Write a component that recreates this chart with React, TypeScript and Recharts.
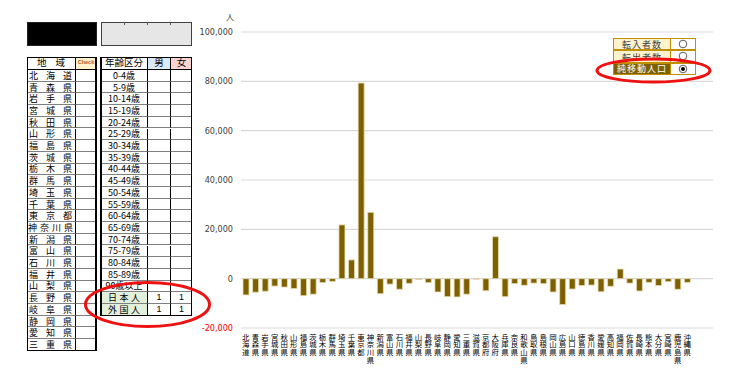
import React from "react";
import { BarChart, Bar, XAxis, YAxis, CartesianGrid } from "recharts";

const PREFECTURES = [
  "北海道", "青森県", "岩手県", "宮城県", "秋田県", "山形県", "福島県", "茨城県", "栃木県", "群馬県",
  "埼玉県", "千葉県", "東京都", "神奈川県", "新潟県", "富山県", "石川県", "福井県", "山梨県", "長野県",
  "岐阜県", "静岡県", "愛知県", "三重県", "滋賀県", "京都府", "大阪府", "兵庫県", "奈良県", "和歌山県",
  "鳥取県", "島根県", "岡山県", "広島県", "山口県", "徳島県", "香川県", "愛媛県", "高知県", "福岡県",
  "佐賀県", "長崎県", "熊本県", "大分県", "宮崎県", "鹿児島県", "沖縄県",
];

// 純移動人口 (人)
const NET_MIGRATION = [
  -6600, -5500, -5100, -3000, -3400, -4000, -6900, -6300, -1600, -1100,
  21800, 7600, 79300, 26900, -6100, -2200, -4300, -1900, -300, -1600,
  -5400, -7300, -7400, -6300, -200, -4900, 17000, -7300, -2000, -2700,
  -1800, -2000, -5400, -10500, -4200, -2800, -2600, -5300, -3100, 3900,
  -1800, -5000, -1500, -2800, -1200, -4300, -1500,
];

const Y_TICKS = [-20000, 0, 20000, 40000, 60000, 80000, 100000];

const REGION_ROWS = PREFECTURES.slice(0, 24);

const AGE_GROUPS = [
  "0-4歳", "5-9歳", "10-14歳", "15-19歳", "20-24歳", "25-29歳", "30-34歳", "35-39歳",
  "40-44歳", "45-49歳", "50-54歳", "55-59歳", "60-64歳", "65-69歳", "70-74歳", "75-79歳",
  "80-84歳", "85-89歳", "90歳以上",
];

const NATIONALITY = ["日本人", "外国人"];
const NATIONALITY_MALE = [1, 1];
const NATIONALITY_FEMALE = [1, 1];

const LEGEND_ITEMS = ["転入者数", "転出者数", "純移動人口"];

const data = PREFECTURES.map((name, i) => ({ name, value: NET_MIGRATION[i] }));

const JP = "'Noto Sans CJK JP', sans-serif";
const NARROW = "'Liberation Sans Narrow', 'DejaVu Sans Condensed', Roboto, sans-serif";
const RH = 11.7;
const ROW0 = 70;

function Box({ x, y, w, h, bg, style, children }: any) {
  return (
    <div
      style={{
        position: "absolute",
        left: x,
        top: y,
        width: w,
        height: h,
        background: bg,
        boxSizing: "border-box",
        display: "flex",
        alignItems: "center",
        justifyContent: "center",
        fontSize: 9,
        lineHeight: 1,
        fontFamily: JP,
        color: "#000",
        whiteSpace: "nowrap",
        ...style,
      }}
    >
      {children}
    </div>
  );
}

function Spread({ text, pad = [2, 3] }: { text: string; pad?: number[] }) {
  return (
    <div
      style={{
        display: "flex",
        justifyContent: "space-between",
        width: "100%",
        padding: `0 ${pad[1]}px 0 ${pad[0]}px`,
        boxSizing: "border-box",
      }}
    >
      {text.split("").map((c, i) => (
        <span key={i}>{c}</span>
      ))}
    </div>
  );
}

function LeftTables() {
  const rowLine = "1px solid #808080";
  return (
    <>
      {/* top boxes */}
      <Box x={27} y={22} w={70} h={24} bg="#000" style={{ border: "1px solid #222" }} />
      <Box x={101} y={22} w={91} h={24} bg="#e7e6e6" style={{ border: "1px solid #404040" }} />
      {[124, 147, 170].map((x) => (
        <div key={x} style={{ position: "absolute", left: x, top: 22, width: 1, height: 3, background: "#555" }} />
      ))}

      {/* region table */}
      <Box x={27} y={57} w={48} h={13} style={{ borderBottom: "1px solid #000", fontSize: 9.5 }}>
        <Spread text="地域" pad={[10, 10]} />
      </Box>
      <Box x={75} y={57} w={21} h={13} bg="#fff2cc" style={{ borderLeft: "1px solid #000", borderBottom: "1px solid #000", fontSize: 5.5, color: "#c65911", fontWeight: 700, fontFamily: "'Liberation Sans', sans-serif" }}>
        Check
      </Box>
      {REGION_ROWS.map((p, i) => (
        <React.Fragment key={p}>
          <Box x={27} y={ROW0 + i * RH} w={48} h={RH} style={{ borderBottom: rowLine }}>
            <Spread text={p} pad={p.length === 4 ? [1, 2] : [2, 3]} />
          </Box>
          <Box x={75} y={ROW0 + i * RH} w={21} h={RH} style={{ borderLeft: "1px solid #000", borderBottom: rowLine }} />
        </React.Fragment>
      ))}
      <div style={{ position: "absolute", left: 27, top: 57, width: 70, height: 294, border: "1px solid #000", borderRight: "2px solid #000", boxSizing: "border-box" }} />

      {/* age table */}
      <Box x={101} y={57} w={46} h={13} style={{ borderBottom: "1px solid #000", fontSize: 9.5 }}>
        年齢区分
      </Box>
      <Box x={147} y={57} w={23} h={13} bg="#dce9f6" style={{ borderLeft: "1px solid #000", borderBottom: "1px solid #000", fontSize: 9.5 }}>
        男
      </Box>
      <Box x={170} y={57} w={22} h={13} bg="#fbd3d2" style={{ borderLeft: "1px solid #000", borderBottom: "1px solid #000", fontSize: 9.5 }}>
        女
      </Box>
      {AGE_GROUPS.map((a, i) => (
        <React.Fragment key={a}>
          <Box x={101} y={ROW0 + i * RH} w={46} h={RH} style={{ borderBottom: rowLine }}>
            {a}
          </Box>
          <Box x={147} y={ROW0 + i * RH} w={23} h={RH} style={{ borderLeft: "1px solid #000", borderBottom: rowLine }} />
          <Box x={170} y={ROW0 + i * RH} w={22} h={RH} style={{ borderLeft: "1px solid #000", borderBottom: rowLine }} />
        </React.Fragment>
      ))}
      {NATIONALITY.map((n, j) => {
        const y = ROW0 + (AGE_GROUPS.length + j) * RH;
        return (
          <React.Fragment key={n}>
            <Box x={101} y={y} w={46} h={RH} bg="#e2efda" style={{ borderBottom: rowLine }}>
              <Spread text={n} pad={[7, 7]} />
            </Box>
            <Box x={147} y={y} w={23} h={RH} style={{ borderLeft: "1px solid #000", borderBottom: rowLine, fontFamily: "'Liberation Sans', sans-serif" }}>
              {NATIONALITY_MALE[j]}
            </Box>
            <Box x={170} y={y} w={22} h={RH} style={{ borderLeft: "1px solid #000", borderBottom: rowLine, fontFamily: "'Liberation Sans', sans-serif" }}>
              {NATIONALITY_FEMALE[j]}
            </Box>
          </React.Fragment>
        );
      })}
      <div style={{ position: "absolute", left: 100, top: 57, width: 92, height: ROW0 + 21 * RH - 57, border: "1px solid #000", borderLeft: "2px solid #000", boxSizing: "border-box" }} />
    </>
  );
}

function LegendControl() {
  const rows = [
    { y: 38, h: 12, bg: "#fff2cc", color: "#404040", checked: false },
    { y: 50, h: 12.5, bg: "#fff2cc", color: "#404040", checked: false },
    { y: 62.5, h: 12.5, bg: "#7f6000", color: "#fff", checked: true },
  ];
  return (
    <>
      {LEGEND_ITEMS.map((label, i) => {
        const r = rows[i];
        return (
          <React.Fragment key={label}>
            <Box x={613} y={r.y} w={58} h={r.h} bg={r.bg} style={{ border: "1px solid #bf9000", color: r.color, letterSpacing: 1, alignItems: i === 1 ? "flex-start" : "center", overflow: "hidden" }}>
              {i === 1 ? (
                <div style={{ height: 6, overflow: "hidden", marginTop: 2 }}>{label}</div>
              ) : (
                label
              )}
            </Box>
            <Box x={671} y={r.y} w={25} h={r.h} bg="#fff" style={{ border: "1px solid #bf9000", borderLeft: "none" }}>
              <svg width={10} height={10}>
                <circle cx={5} cy={5} r={3.8} fill="#fff" stroke="#333" strokeWidth={0.8} />
                {r.checked && <circle cx={5} cy={5} r={2} fill="#000" />}
              </svg>
            </Box>
          </React.Fragment>
        );
      })}
    </>
  );
}

function YTick({ x, y, payload }: any) {
  const v = payload.value as number;
  return (
    <text x={x} y={y} dy={3} textAnchor="end" fontSize={9} fontFamily={NARROW} fill={v < 0 ? "#ff0000" : "#404040"}>
      {v.toLocaleString("en-US")}
    </text>
  );
}

function XTick({ x, y, payload }: any) {
  return (
    <text
      x={x}
      y={y - 3}
      fontSize={7.4}
      fontFamily={JP}
      fill="#000"
      letterSpacing={0.3}
      style={{ writingMode: "vertical-rl" }}
    >
      {payload.value}
    </text>
  );
}

export default function App() {
  return (
    <div style={{ position: "absolute", left: 0, top: 0, width: 741, height: 377, background: "#fff", overflow: "hidden" }}>
      <LeftTables />
      <div style={{ position: "absolute", left: 200, top: 0 }}>
        <BarChart width={541} height={377} data={data} margin={{ top: 32, right: 28, bottom: 4, left: 0 }}>
          <CartesianGrid vertical={false} stroke="#d9d9d9" strokeWidth={1.2} />
          <XAxis
            dataKey="name"
            interval={0}
            tick={<XTick />}
            axisLine={false}
            tickLine={false}
            height={45}
            padding={{ left: 0, right: 21 }}
          />
          <YAxis
            width={41}
            domain={[-20000, 100000]}
            ticks={Y_TICKS}
            tick={<YTick />}
            axisLine={false}
            tickLine={false}
          />
          <Bar dataKey="value" fill="#7f6000" stroke="#e6ddb6" strokeWidth={0.8} barSize={6} isAnimationActive={false} />
        </BarChart>
      </div>
      <span style={{ position: "absolute", left: 226, top: 11, fontSize: 8, fontFamily: JP, color: "#333" }}>人</span>
      <LegendControl />
      <svg width={741} height={377} style={{ position: "absolute", left: 0, top: 0, pointerEvents: "none" }}>
        <ellipse cx={147.5} cy={304.5} rx={62} ry={22} fill="none" stroke="#ee1111" strokeWidth={3} />
        <ellipse cx={653.5} cy={70.5} rx={56.5} ry={11.5} fill="none" stroke="#ee1111" strokeWidth={3} />
      </svg>
    </div>
  );
}
